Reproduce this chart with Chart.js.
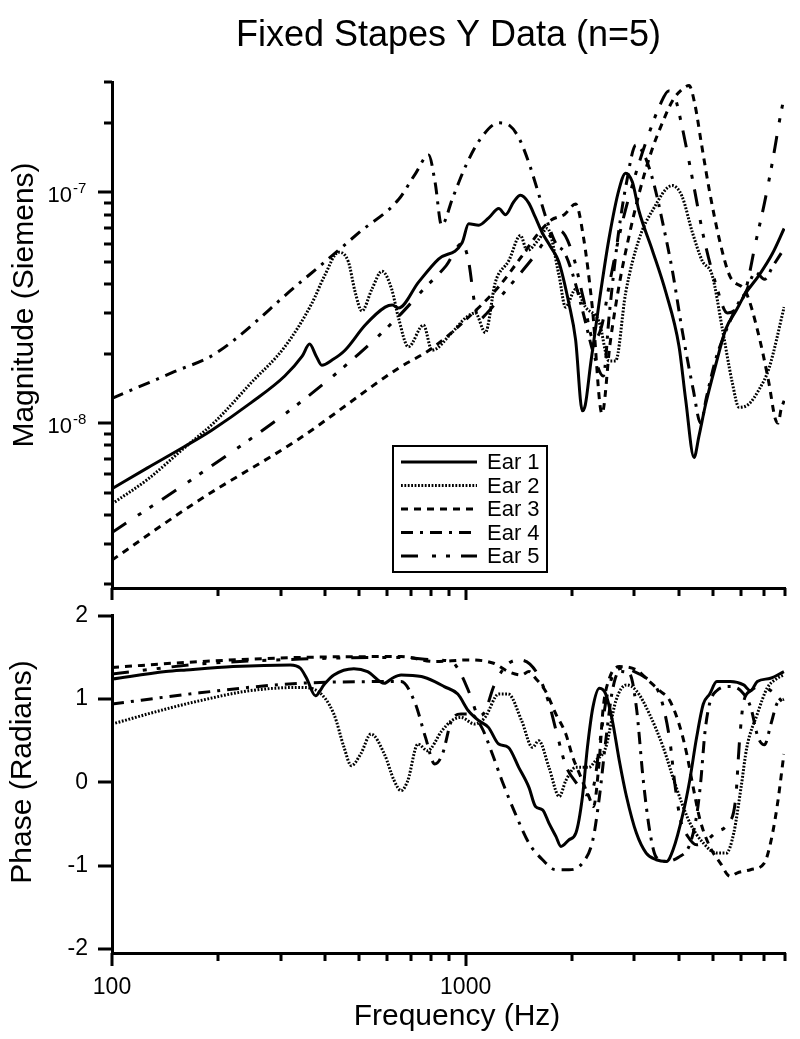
<!DOCTYPE html>
<html lang="en">
<head>
<meta charset="UTF-8">
<title>Fixed Stapes Y Data (n=5)</title>
<style>
    body { margin: 0; background: #fff; }
    #wrap { position: relative; width: 800px; height: 1039px; }
    #magnitude_canvas { position: absolute; left: 0; top: 0; }
    #phase_canvas { position: absolute; left: 0; top: 590px; }
</style>
</head>
<body>
<div id="wrap">
    <canvas id="magnitude_canvas" width="800" height="600"></canvas>
    <canvas id="phase_canvas" width="800" height="449"></canvas>
</div>
<script src="https://cdn.jsdelivr.net/npm/chart.js@4.4.0/dist/chart.umd.min.js"></script>
<script>
// ---- axis ticks ----
const freqTicks = [100, 200, 300, 400, 500, 600, 700, 800, 900, 1000, 2000, 3000, 4000, 5000, 6000, 7000, 8000];
const freqLabelled = [100, 1000];
const magTicks = [2e-9, 3e-9, 4e-9, 5e-9, 6e-9, 7e-9, 8e-9, 9e-9,
    1e-8, 2e-8, 3e-8, 4e-8, 5e-8, 6e-8, 7e-8, 8e-8, 9e-8, 1e-7, 2e-7, 3e-7];
const magDecades = [1e-8, 1e-7];
const phaseTicks = [-2, -1, 0, 1, 2];

// ---- magnitude (Siemens) ----
const ear1MagFreq = [100, 126, 160, 191, 248, 308, 345, 362, 378, 392, 420, 456, 520, 592, 620, 646, 736, 838, 977, 1020,
    1089, 1162, 1241, 1296, 1368, 1429, 1507, 1574, 1645, 1740, 1834, 1959, 2046, 2138, 2180, 2256, 2383, 2543, 2715, 2834,
    2960, 3092, 3374, 3680, 4013, 4191, 4425, 4570, 4773, 5096, 5444, 5808, 6199, 6761, 7372, 7955];
const ear1Mag = [5.2e-9, 6.4e-9, 7.9e-9, 9.3e-9, 1.23e-8, 1.6e-8, 1.95e-8, 2.2e-8, 1.95e-8, 1.78e-8, 1.88e-8, 2.07e-8, 2.66e-8, 3.18e-8, 3.25e-8, 3.15e-8, 4.08e-8, 5.14e-8, 6.04e-8, 7.3e-8,
    7.2e-8, 7.75e-8, 8.5e-8, 8.0e-8, 9.1e-8, 9.7e-8, 9.0e-8, 7.8e-8, 6.7e-8, 5.8e-8, 5.0e-8, 3.3e-8, 2.3e-8, 1.13e-8, 1.2e-8, 1.8e-8, 3.3e-8, 6.3e-8, 1.03e-7, 1.21e-7,
    1.11e-7, 8.3e-8, 5.6e-8, 3.7e-8, 2.15e-8, 1.26e-8, 7.1e-9, 8.8e-9, 1.21e-8, 1.79e-8, 2.56e-8, 3.06e-8, 3.66e-8, 4.38e-8, 5.43e-8, 6.97e-8];

const ear2MagFreq = [100, 126, 160, 195, 248, 308, 367, 400, 437, 466, 487, 509, 543, 580, 618, 646, 689, 760, 803, 915,
    998, 1065, 1137, 1213, 1324, 1429, 1492, 1611, 1702, 1836, 1916, 2046, 2183, 2383, 2543, 2655, 2834, 3092, 3374, 3839,
    4093, 4375, 4667, 4977, 5321, 5675, 5929, 6324, 6761, 7211, 7955];
const ear2Mag = [4.47e-9, 5.7e-9, 7.8e-9, 1.01e-8, 1.5e-8, 2.14e-8, 3.29e-8, 4.38e-8, 5.5e-8, 5.0e-8, 3.7e-8, 3.06e-8, 3.8e-8, 4.55e-8, 3.8e-8, 2.85e-8, 2.14e-8, 2.66e-8, 2.07e-8, 2.47e-8,
    2.85e-8, 3.0e-8, 2.47e-8, 4.07e-8, 5.05e-8, 6.5e-8, 5.6e-8, 6.26e-8, 6.97e-8, 4.38e-8, 3.18e-8, 3.8e-8, 3.18e-8, 2.75e-8, 1.86e-8, 1.86e-8, 3.66e-8, 6.26e-8, 8.33e-8, 1.07e-7,
    9.6e-8, 6.72e-8, 5.05e-8, 4.38e-8, 2.56e-8, 1.5e-8, 1.17e-8, 1.21e-8, 1.4e-8, 1.73e-8, 3.18e-8];

const ear3MagFreq = [100, 175, 336, 646, 800, 1000, 1240, 1430, 1600, 1750, 1900, 2046, 2150, 2280, 2430, 2560, 2720, 2900, 3100, 3350,
    3600, 3850, 4100, 4285, 4450, 4650, 4900, 5250, 5600, 6200, 6700, 7200, 7500, 7650, 7800, 7955];
const ear3Mag = [2.55e-9, 4.6e-9, 8.5e-9, 1.73e-8, 2.1e-8, 2.8e-8, 3.9e-8, 5.2e-8, 6.6e-8, 7.6e-8, 8.0e-8, 8.9e-8, 6.5e-8, 3.2e-8, 1.1e-8, 2.2e-8, 4.0e-8, 6.5e-8, 1.0e-7, 1.5e-7,
    2.0e-7, 2.5e-7, 2.8e-7, 2.9e-7, 2.4e-7, 1.6e-7, 1.0e-7, 6.0e-8, 4.3e-8, 3.7e-8, 2.5e-8, 1.5e-8, 1.05e-8, 1.0e-8, 1.15e-8, 1.25e-8];

const ear4MagFreq = [100, 150, 196, 336, 400, 500, 646, 720, 786, 820, 855, 920, 1000, 1100, 1240, 1330, 1420, 1520, 1620, 1700,
    1800, 1900, 2000, 2150, 2300, 2450, 2550, 2700, 2850, 3030, 3200, 3400, 3600, 3850, 4100, 4400, 4620, 4800, 5100, 5500,
    5900, 6200, 6600, 7000, 7400, 7955];
const ear4Mag = [1.28e-8, 1.67e-8, 2.0e-8, 4.0e-8, 5.0e-8, 6.7e-8, 9.3e-8, 1.2e-7, 1.45e-7, 1.1e-7, 7.2e-8, 9.5e-8, 1.3e-7, 1.7e-7, 2.0e-7, 1.95e-7, 1.7e-7, 1.3e-7, 9.5e-8, 7.5e-8,
    6.0e-8, 5.5e-8, 4.5e-8, 3.0e-8, 2.0e-8, 1.6e-8, 3.0e-8, 6.5e-8, 1.1e-7, 1.6e-7, 1.45e-7, 1.1e-7, 7.5e-8, 4.5e-8, 2.5e-8, 1.4e-8, 1.0e-8, 1.3e-8, 1.9e-8, 2.6e-8,
    3.3e-8, 3.7e-8, 4.5e-8, 4.2e-8, 4.8e-8, 5.7e-8];

const ear5MagFreq = [100, 175, 336, 500, 646, 760, 880, 977, 1020, 1060, 1089, 1150, 1250, 1400, 1550, 1700, 1850, 2000, 2150, 2300,
    2420, 2550, 2750, 3000, 3300, 3550, 3750, 3900, 4100, 4400, 4700, 5100, 5500, 5900, 6200, 6600, 7000, 7400, 7700, 7955];
const ear5Mag = [3.36e-9, 5.94e-9, 1.21e-8, 2.0e-8, 2.9e-8, 3.8e-8, 4.8e-8, 6.0e-8, 5.0e-8, 3.3e-8, 2.8e-8, 3.0e-8, 3.5e-8, 4.3e-8, 5.2e-8, 6.3e-8, 6.8e-8, 5.5e-8, 3.5e-8, 2.3e-8,
    2.6e-8, 4.0e-8, 7.0e-8, 1.15e-7, 1.8e-7, 2.4e-7, 2.75e-7, 2.6e-7, 1.9e-7, 1.1e-7, 6.5e-8, 4.0e-8, 3.0e-8, 3.2e-8, 3.8e-8, 6.0e-8, 9.0e-8, 1.4e-7, 2.0e-7, 2.6e-7];

// ---- phase (radians) ----
const ear1PhaseFreq = [100, 142, 162, 220, 319, 341, 355, 376, 398, 424, 483, 528, 589, 620, 657, 750, 818, 870, 950, 1018,
    1090, 1160, 1240, 1320, 1413, 1510, 1576, 1650, 1720, 1800, 1860, 1961, 2050, 2140, 2210, 2290, 2390, 2490, 2600, 2720,
    2850, 3040, 3240, 3460, 3700, 3860, 4120, 4300, 4500, 4700, 4900, 5130, 5600, 6110, 6390, 6680, 7280, 7943];
const ear1Phase = [1.24, 1.33, 1.35, 1.39, 1.41, 1.37, 1.25, 1.04, 1.175, 1.29, 1.365, 1.33, 1.19, 1.25, 1.29, 1.27, 1.21, 1.15, 1.06, 0.86,
    0.74, 0.66, 0.46, 0.42, 0.18, -0.06, -0.29, -0.33, -0.49, -0.65, -0.77, -0.69, -0.61, -0.17, 0.42, 0.9, 1.13, 1.06, 0.74, 0.26,
    -0.17, -0.61, -0.85, -0.93, -0.95, -0.81, -0.37, 0.02, 0.54, 0.94, 1.06, 1.21, 1.21, 1.17, 1.1, 1.21, 1.25, 1.33];

const ear2PhaseFreq = [100, 142, 177, 245, 341, 380, 424, 453, 475, 505, 540, 589, 628, 657, 686, 733, 780, 857, 912, 970,
    1060, 1135, 1240, 1320, 1440, 1545, 1610, 1720, 1840, 1920, 2050, 2230, 2330, 2490, 2660, 2850, 3040, 3310, 3620, 3940,
    4310, 4700, 5130, 5460, 5730, 6010, 6240, 6680, 7120, 7610, 7943];
const ear2Phase = [0.70, 0.88, 0.98, 1.10, 1.14, 1.10, 0.82, 0.42, 0.20, 0.34, 0.58, 0.34, 0.02, -0.10, 0.02, 0.46, 0.38, 0.62, 0.74, 0.78,
    0.70, 0.78, 1.06, 1.06, 0.74, 0.42, 0.50, 0.18, -0.17, 0.02, 0.18, 0.18, 0.26, 0.42, 0.98, 1.17, 1.10, 0.82, 0.42, -0.06,
    -0.49, -0.73, -0.85, -0.85, -0.61, -0.06, 0.42, 0.82, 1.13, 1.25, 1.29];

const ear3PhaseFreq = [100, 177, 341, 657, 818, 1018, 1200, 1320, 1440, 1510, 1576, 1680, 1800, 1920, 2010, 2100, 2230, 2300, 2380, 2450,
    2550, 2720, 3040, 3310, 3540, 3780, 4040, 4220, 4400, 4600, 4900, 5250, 5600, 5850, 6390, 6990, 7280, 7600, 7943];
const ear3Phase = [1.38, 1.45, 1.50, 1.51, 1.45, 1.47, 1.43, 1.33, 1.29, 1.33, 1.25, 1.10, 0.82, 0.58, 0.30, 0.10, -0.17, -0.29, 0.2, 0.9,
    1.25, 1.39, 1.35, 1.21, 1.10, 0.98, 0.66, 0.34, -0.06, -0.45, -0.77, -0.97, -1.13, -1.09, -1.05, -0.97, -0.73, -0.29, 0.34];

const ear4PhaseFreq = [100, 177, 341, 657, 720, 770, 818, 860, 912, 970, 1030, 1110, 1190, 1267, 1380, 1510, 1650, 1800, 1960, 2140,
    2290, 2390, 2490, 2600, 2720, 2910, 3040, 3180, 3320, 3460, 3700, 4000, 4300, 4500, 4620, 4750, 4900, 5130, 5600, 6000,
    6400, 6700, 7000, 7300, 7600, 7943];
const ear4Phase = [0.94, 1.075, 1.19, 1.21, 0.95, 0.54, 0.22, 0.34, 0.74, 0.82, 0.82, 0.66, 0.34, 0.02, -0.37, -0.73, -0.93, -1.05, -1.05, -0.97,
    -0.69, -0.17, 0.5, 1.1, 1.33, 1.30, 0.9, 0.02, -0.6, -0.9, -0.95, -0.9, -0.75, -0.4, 0.0, 0.6, 0.95, 1.1, 1.15, 1.1,
    0.9, 0.55, 0.45, 0.7, 0.95, 1.0];

const ear5PhaseFreq = [100, 177, 341, 657, 818, 912, 970, 1030, 1090, 1135, 1200, 1300, 1420, 1520, 1620, 1720, 1820, 1920, 2050, 2200,
    2300, 2400, 2500, 2620, 2800, 3000, 3250, 3450, 3600, 3780, 3900, 4050, 4250, 4500, 4800, 5100, 5500, 5800, 5950, 6100,
    6400, 6800, 7300, 7943];
const ear5Phase = [1.30, 1.42, 1.48, 1.50, 1.47, 1.45, 1.30, 1.05, 0.80, 0.85, 1.15, 1.40, 1.47, 1.42, 1.25, 0.95, 0.55, 0.20, 0.0, -0.15,
    -0.05, 0.5, 1.0, 1.30, 1.37, 1.33, 1.25, 1.15, 0.95, 0.5, 0.0, -0.45, -0.65, -0.75, -0.7, -0.6, -0.5, -0.2, 0.5, 0.95,
    1.1, 1.15, 1.1, 0.95];

const earLabels = ['Ear 1', 'Ear 2', 'Ear 3', 'Ear 4', 'Ear 5'];
const earDashes = [[], [1.8, 1.6], [7, 6], [12, 7, 3, 7], [17, 14, 4, 10, 4, 11]];

const FONT = "'Liberation Sans', Arial, Helvetica, sans-serif";
Chart.defaults.font.family = FONT;
Chart.defaults.color = '#000';

function toPoints(freqs, values) {
    return freqs.map(function (f, i) { return {x: f, y: values[i]}; });
}

function makeDatasets(series) {
    return series.map(function (s, i) {
        return {
            label: earLabels[i],
            data: toPoints(s[0], s[1]),
            borderColor: '#000',
            borderWidth: 3,
            borderDash: earDashes[i],
            pointRadius: 0,
            fill: false,
            cubicInterpolationMode: 'monotone'
        };
    });
}

// outward tick marks, Igor style
const axisTicks = {
    id: 'axisTicks',
    afterDraw(chart, args, opts) {
        const ctx = chart.ctx;
        const area = chart.chartArea;
        const xs = chart.scales.x;
        const ys = chart.scales.y;
        ctx.save();
        ctx.strokeStyle = '#000';
        ctx.lineWidth = 3;
        ctx.beginPath();
        opts.x.forEach(function (v) {
            const px = Math.round(xs.getPixelForValue(v));
            const len = opts.xMajor.indexOf(v) >= 0 ? 13 : 8;
            ctx.moveTo(px, area.bottom);
            ctx.lineTo(px, area.bottom + len);
        });
        opts.y.forEach(function (v) {
            const py = Math.round(ys.getPixelForValue(v));
            const len = opts.yMajor.indexOf(v) >= 0 ? 14 : 8;
            ctx.moveTo(area.left, py);
            ctx.lineTo(area.left - len, py);
        });
        ctx.stroke();
        ctx.restore();
    }
};

// "10" with a raised exponent for the log axis
const decadeLabels = {
    id: 'decadeLabels',
    afterDraw(chart, args, opts) {
        const ctx = chart.ctx;
        const ys = chart.scales.y;
        const right = chart.chartArea.left - 40;
        ctx.save();
        ctx.fillStyle = '#000';
        ctx.textBaseline = 'alphabetic';
        opts.values.forEach(function (v) {
            const py = ys.getPixelForValue(v);
            ctx.font = '22px ' + FONT;
            ctx.textAlign = 'right';
            ctx.fillText('10', right, py + 10);
            ctx.font = '15px ' + FONT;
            ctx.textAlign = 'left';
            ctx.fillText(String(Math.round(Math.log10(v))), right + 1, py + 1);
        });
        ctx.restore();
    }
};

const axisTitles = {
    id: 'axisTitles',
    afterDraw(chart, args, opts) {
        const ctx = chart.ctx;
        ctx.save();
        ctx.fillStyle = '#000';
        ctx.font = '30px ' + FONT;
        ctx.textAlign = 'center';
        ctx.textBaseline = 'middle';
        opts.items.forEach(function (t) {
            ctx.save();
            ctx.translate(t.x, t.y);
            ctx.rotate(t.rotate || 0);
            ctx.fillText(t.text, 0, 0);
            ctx.restore();
        });
        ctx.restore();
    }
};

const boxLegend = {
    id: 'boxLegend',
    afterDraw(chart, args, opts) {
        const ctx = chart.ctx;
        ctx.save();
        ctx.fillStyle = '#fff';
        ctx.fillRect(opts.left, opts.top, opts.width, opts.height);
        ctx.strokeStyle = '#000';
        ctx.lineWidth = 2;
        ctx.strokeRect(opts.left, opts.top, opts.width, opts.height);
        ctx.font = '22px ' + FONT;
        ctx.fillStyle = '#000';
        ctx.textAlign = 'left';
        ctx.textBaseline = 'middle';
        chart.data.datasets.forEach(function (ds, i) {
            const y = opts.top + opts.firstRow + i * opts.rowGap;
            ctx.setLineDash(ds.borderDash);
            ctx.lineWidth = ds.borderWidth;
            ctx.beginPath();
            ctx.moveTo(opts.left + 8, y);
            ctx.lineTo(opts.left + 84, y);
            ctx.stroke();
            ctx.setLineDash([]);
            ctx.fillText(ds.label, opts.left + 94, y + 1);
        });
        ctx.restore();
    }
};

const magnitudeConfig = {
    type: 'line',
    data: {
        datasets: makeDatasets([
            [ear1MagFreq, ear1Mag], [ear2MagFreq, ear2Mag], [ear3MagFreq, ear3Mag],
            [ear4MagFreq, ear4Mag], [ear5MagFreq, ear5Mag]
        ])
    },
    options: {
        responsive: false,
        animation: false,
        devicePixelRatio: 1,
        layout: {padding: {left: 0, right: 15, top: 0, bottom: 0}},
        plugins: {
            legend: {display: false},
            tooltip: {enabled: false},
            title: {
                display: true,
                text: 'Fixed Stapes Y Data (n=5)',
                fullSize: false,
                color: '#000',
                font: {size: 36, weight: 'normal', family: FONT},
                padding: {top: 14, bottom: 25}
            },
            axisTicks: {x: freqTicks, xMajor: freqLabelled, y: magTicks, yMajor: magDecades},
            decadeLabels: {values: magDecades},
            axisTitles: {items: [{text: 'Magnitude (Siemens)', x: 25, y: 305, rotate: -Math.PI / 2}]},
            boxLegend: {left: 393, top: 446, width: 154, height: 126, firstRow: 16, rowGap: 23.5}
        },
        scales: {
            x: {
                type: 'logarithmic',
                min: 100,
                max: 8000,
                ticks: {display: false},
                grid: {display: false},
                border: {display: true, color: '#000', width: 3},
                afterBuildTicks: function (scale) { scale.ticks = freqTicks.map(function (v) { return {value: v}; }); },
                afterFit: function (scale) { scale.height = 12; }
            },
            y: {
                type: 'logarithmic',
                min: 1.93e-9,
                max: 3e-7,
                ticks: {display: false},
                grid: {display: false},
                border: {display: true, color: '#000', width: 3},
                afterBuildTicks: function (scale) { scale.ticks = magTicks.map(function (v) { return {value: v}; }); },
                afterFit: function (scale) { scale.width = 112; }
            }
        }
    },
    plugins: [axisTicks, decadeLabels, axisTitles, boxLegend]
};

const phaseConfig = {
    type: 'line',
    data: {
        datasets: makeDatasets([
            [ear1PhaseFreq, ear1Phase], [ear2PhaseFreq, ear2Phase], [ear3PhaseFreq, ear3Phase],
            [ear4PhaseFreq, ear4Phase], [ear5PhaseFreq, ear5Phase]
        ])
    },
    options: {
        responsive: false,
        animation: false,
        devicePixelRatio: 1,
        layout: {padding: {left: 0, right: 15, top: 24, bottom: 0}},
        plugins: {
            legend: {display: false},
            tooltip: {enabled: false},
            axisTicks: {x: freqTicks, xMajor: freqLabelled, y: phaseTicks, yMajor: phaseTicks},
            axisTitles: {items: [
                {text: 'Phase (Radians)', x: 23, y: 182, rotate: -Math.PI / 2},
                {text: 'Frequency (Hz)', x: 457, y: 427}
            ]}
        },
        scales: {
            x: {
                type: 'logarithmic',
                min: 100,
                max: 8000,
                ticks: {
                    autoSkip: false,
                    maxRotation: 0,
                    padding: 9,
                    font: {size: 23},
                    callback: function (value) { return freqLabelled.indexOf(value) >= 0 ? String(value) : ''; }
                },
                grid: {display: false, drawTicks: true, tickLength: 12},
                border: {display: true, color: '#000', width: 3},
                afterBuildTicks: function (scale) { scale.ticks = freqTicks.map(function (v) { return {value: v}; }); },
                afterFit: function (scale) { scale.height = 86; }
            },
            y: {
                type: 'linear',
                min: -2.05,
                max: 2,
                ticks: {
                    padding: 12,
                    font: {size: 23},
                    callback: function (value) { return String(value); }
                },
                grid: {display: false, drawTicks: true, tickLength: 12},
                border: {display: true, color: '#000', width: 3},
                afterBuildTicks: function (scale) { scale.ticks = phaseTicks.map(function (v) { return {value: v}; }); },
                afterFit: function (scale) { scale.width = 112; }
            }
        }
    },
    plugins: [axisTicks, axisTitles]
};

const magnitudeChart = new Chart(document.getElementById('magnitude_canvas').getContext('2d'), magnitudeConfig);
const phaseChart = new Chart(document.getElementById('phase_canvas').getContext('2d'), phaseConfig);
</script>
</body>
</html>
